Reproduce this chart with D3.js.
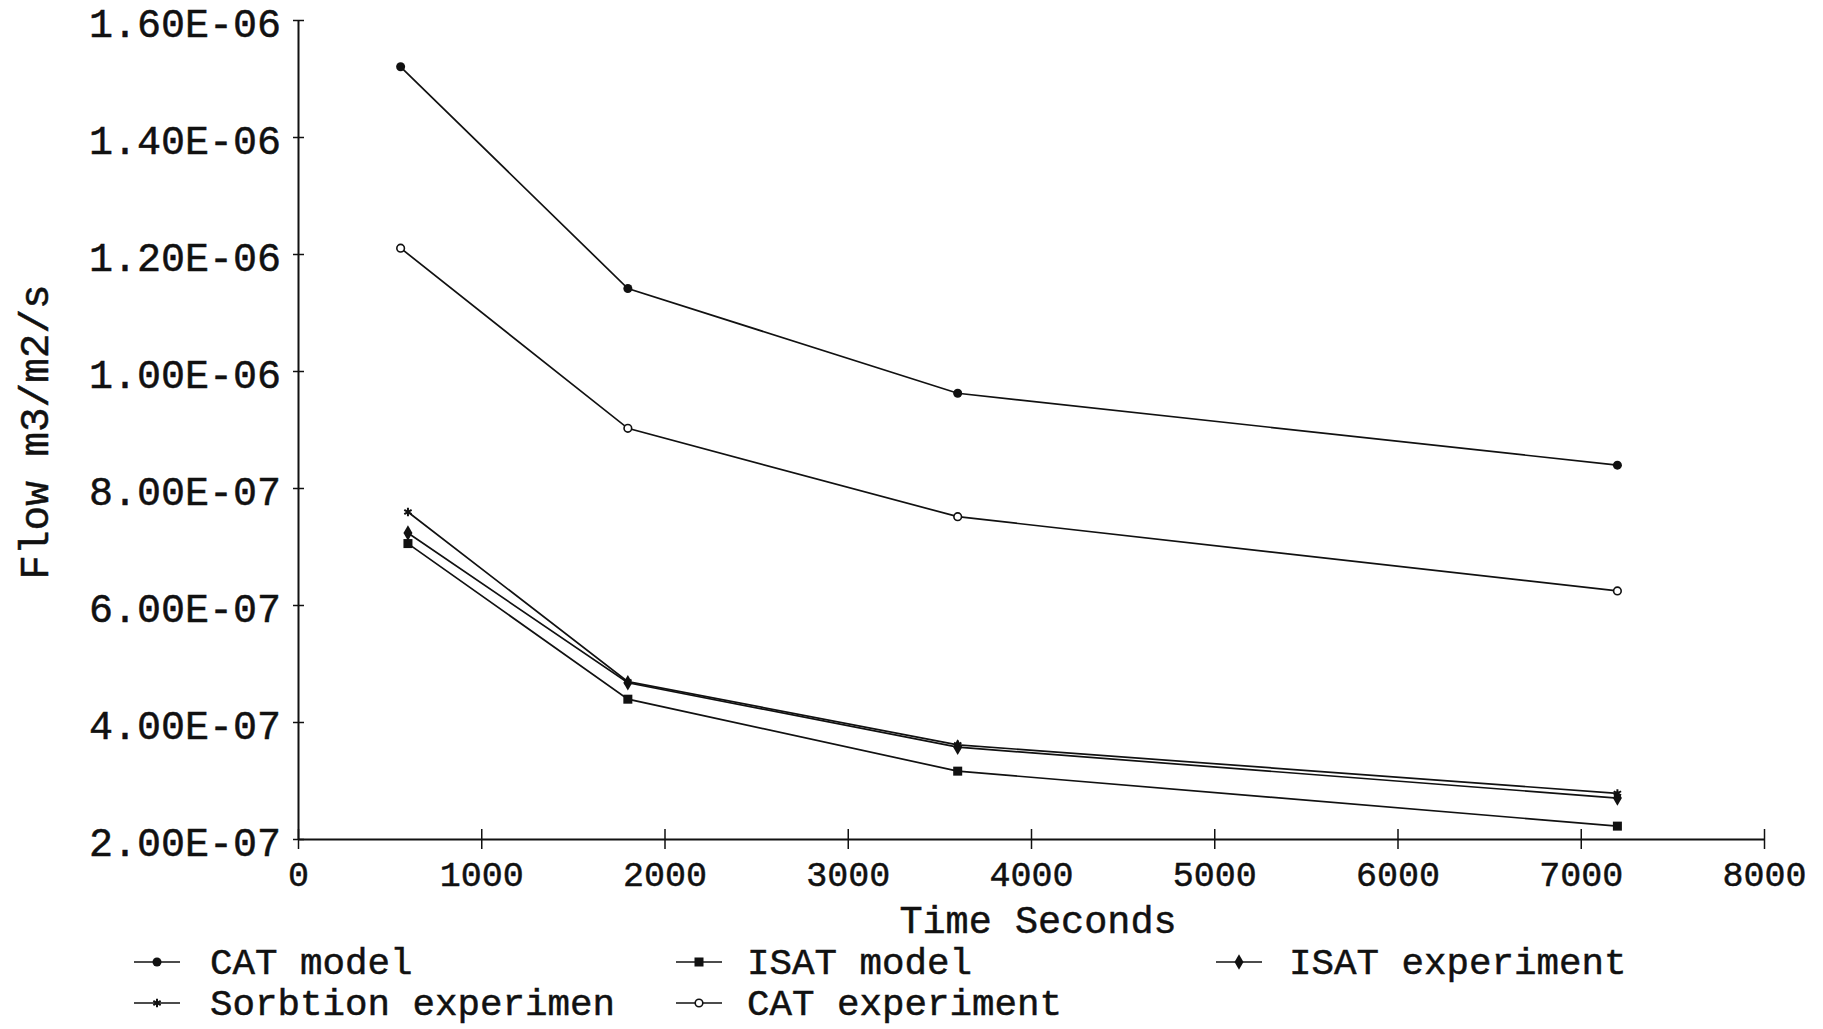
<!DOCTYPE html>
<html>
<head>
<meta charset="utf-8">
<script src="https://cdn.jsdelivr.net/npm/d3@7"></script>
<style>
  body { margin: 0; background: #fff; }
  text { font-family: "Liberation Mono", "DejaVu Sans Mono", monospace; fill: #111; stroke: #111; stroke-width: 0.5; }
</style>
</head>
<body>
<script>
// values
var catModelTime = [560, 1800, 3600, 7200];
var catModel = [1.52e-6, 1.141e-6, 0.962e-6, 0.839e-6];
var catExpTime = [560, 1800, 3600, 7200];
var catExp = [1.21e-6, 0.902e-6, 0.751e-6, 0.624e-6];
var isatModelTime = [600, 1800, 3600, 7200];
var isatModel = [0.705e-6, 0.439e-6, 0.316e-6, 0.222e-6];
var isatExpTime = [600, 1800, 3600, 7200];
var isatExp = [0.723e-6, 0.467e-6, 0.357e-6, 0.270e-6];
var sorbTime = [600, 1800, 3600, 7200];
var sorbExp = [0.759e-6, 0.469e-6, 0.361e-6, 0.278e-6];

var xTicks = [0, 1000, 2000, 3000, 4000, 5000, 6000, 7000, 8000];
var yTicks = [2e-7, 4e-7, 6e-7, 8e-7, 1e-6, 1.2e-6, 1.4e-6, 1.6e-6];
var yTickLabels = ['2.00E-07', '4.00E-07', '6.00E-07', '8.00E-07', '1.00E-06', '1.20E-06', '1.40E-06', '1.60E-06'];

var screen = { width: 1823, height: 1029 };
var margins = { top: 20, left: 298, right: 59, bottom: 190 };

var series = [
  { name: 'CAT model', t: catModelTime, v: catModel, marker: 'dot' },
  { name: 'ISAT model', t: isatModelTime, v: isatModel, marker: 'square' },
  { name: 'ISAT experiment', t: isatExpTime, v: isatExp, marker: 'diamond' },
  { name: 'Sorbtion experimen', t: sorbTime, v: sorbExp, marker: 'star' },
  { name: 'CAT experiment', t: catExpTime, v: catExp, marker: 'ring' }
];

var svg = d3.select('body').append('svg')
            .attr('width', screen.width)
            .attr('height', screen.height);

var xScale = d3.scaleLinear()
               .domain([0, 8000])
               .range([margins.left, screen.width - margins.right]);
var yScale = d3.scaleLinear()
               .domain([2e-7, 1.6e-6])
               .range([screen.height - margins.bottom, margins.top]);

var xAxis = d3.axisBottom(xScale)
              .tickValues(xTicks)
              .tickSize(0)
              .tickPadding(0)
              .tickFormat(d3.format('d'));
var yAxis = d3.axisLeft(yScale)
              .tickValues(yTicks)
              .tickSize(0)
              .tickPadding(17)
              .tickFormat(function(d, i){ return yTickLabels[i]; });

var gx = svg.append('g')
   .classed('xAxis', true)
   .attr('transform', 'translate(0,' + yScale(2e-7) + ')')
   .call(xAxis);
var gy = svg.append('g')
   .classed('yAxis', true)
   .attr('transform', 'translate(' + xScale(0) + ',0)')
   .call(yAxis);

[gx, gy].forEach(function(g){
  g.select('.domain').attr('stroke', '#111').attr('stroke-width', 2);
  g.selectAll('text').attr('fill', '#111');
});
gx.selectAll('.tick text').attr('font-size', 35).attr('y', 47).attr('dy', 0);
gy.selectAll('.tick text').attr('font-size', 40).attr('dy', '0.42em');
gx.selectAll('.tick line').attr('y1', -10).attr('y2', 10).attr('stroke', '#111').attr('stroke-width', 1.5);
gy.selectAll('.tick line').attr('x1', -5).attr('x2', 6).attr('stroke', '#111').attr('stroke-width', 1.5);

// axis titles
svg.append('text')
   .classed('LabelX', true)
   .attr('x', 1038)
   .attr('y', 933)
   .attr('text-anchor', 'middle')
   .attr('font-size', 38.5)
   .text('Time Seconds');

svg.append('text')
   .classed('LabelY', true)
   .attr('transform', 'translate(48,432) rotate(-90)')
   .attr('text-anchor', 'middle')
   .attr('font-size', 41)
   .text('Flow m3/m2/s');

var drawMarker = function(sel, kind){
  if (kind == 'dot'){
    sel.append('circle').attr('r', 4.5).attr('fill', '#111');
  } else if (kind == 'ring'){
    sel.append('circle').attr('r', 3.8).attr('fill', '#fff').attr('stroke', '#111').attr('stroke-width', 1.6);
  } else if (kind == 'square'){
    sel.append('rect').attr('x', -4.5).attr('y', -4.5).attr('width', 9).attr('height', 9).attr('fill', '#111');
  } else if (kind == 'diamond'){
    sel.append('path').attr('d', d3.symbol(d3.symbolDiamond, 70)).attr('fill', '#111');
  } else {
    sel.append('path').attr('d', d3.symbol(d3.symbolAsterisk, 50)).attr('fill', 'none')
       .attr('stroke', '#111').attr('stroke-width', 2);
  }
};

var line = d3.line()
             .x(function(d){ return xScale(d[0]); })
             .y(function(d){ return yScale(d[1]); });

var groups = svg.selectAll('g.series')
                .data(series)
                .enter()
                .append('g')
                .classed('series', true);

groups.append('path')
      .attr('d', function(d){ return line(d3.zip(d.t, d.v)); })
      .attr('fill', 'none')
      .attr('stroke', '#111')
      .attr('stroke-width', 1.7);

groups.each(function(s){
  d3.select(this).selectAll('g.pt')
    .data(d3.zip(s.t, s.v))
    .enter()
    .append('g')
    .classed('pt', true)
    .attr('transform', function(d){ return 'translate(' + xScale(d[0]) + ',' + yScale(d[1]) + ')'; })
    .each(function(){ drawMarker(d3.select(this), s.marker); });
});

// legend, 3 columns x 2 rows
var legendPos = [[134, 962], [676, 962], [1216, 962], [134, 1003], [676, 1003]];
var legendTextX = [76, 71, 73, 76, 71];
var legend = svg.append('g').classed('legend', true);
var items = legend.selectAll('g')
                  .data(series)
                  .enter()
                  .append('g')
                  .attr('transform', function(d, i){ return 'translate(' + legendPos[i][0] + ',' + legendPos[i][1] + ')'; });
items.append('line')
     .attr('x1', 0).attr('x2', 46)
     .attr('stroke', '#111').attr('stroke-width', 1.7);
items.each(function(s){
  var m = d3.select(this).append('g').attr('transform', 'translate(23,0)');
  drawMarker(m, s.marker);
});
items.append('text')
     .attr('x', function(d, i){ return legendTextX[i]; })
     .attr('y', 12)
     .attr('font-size', 37.5)
     .text(function(d){ return d.name; });
</script>
</body>
</html>
